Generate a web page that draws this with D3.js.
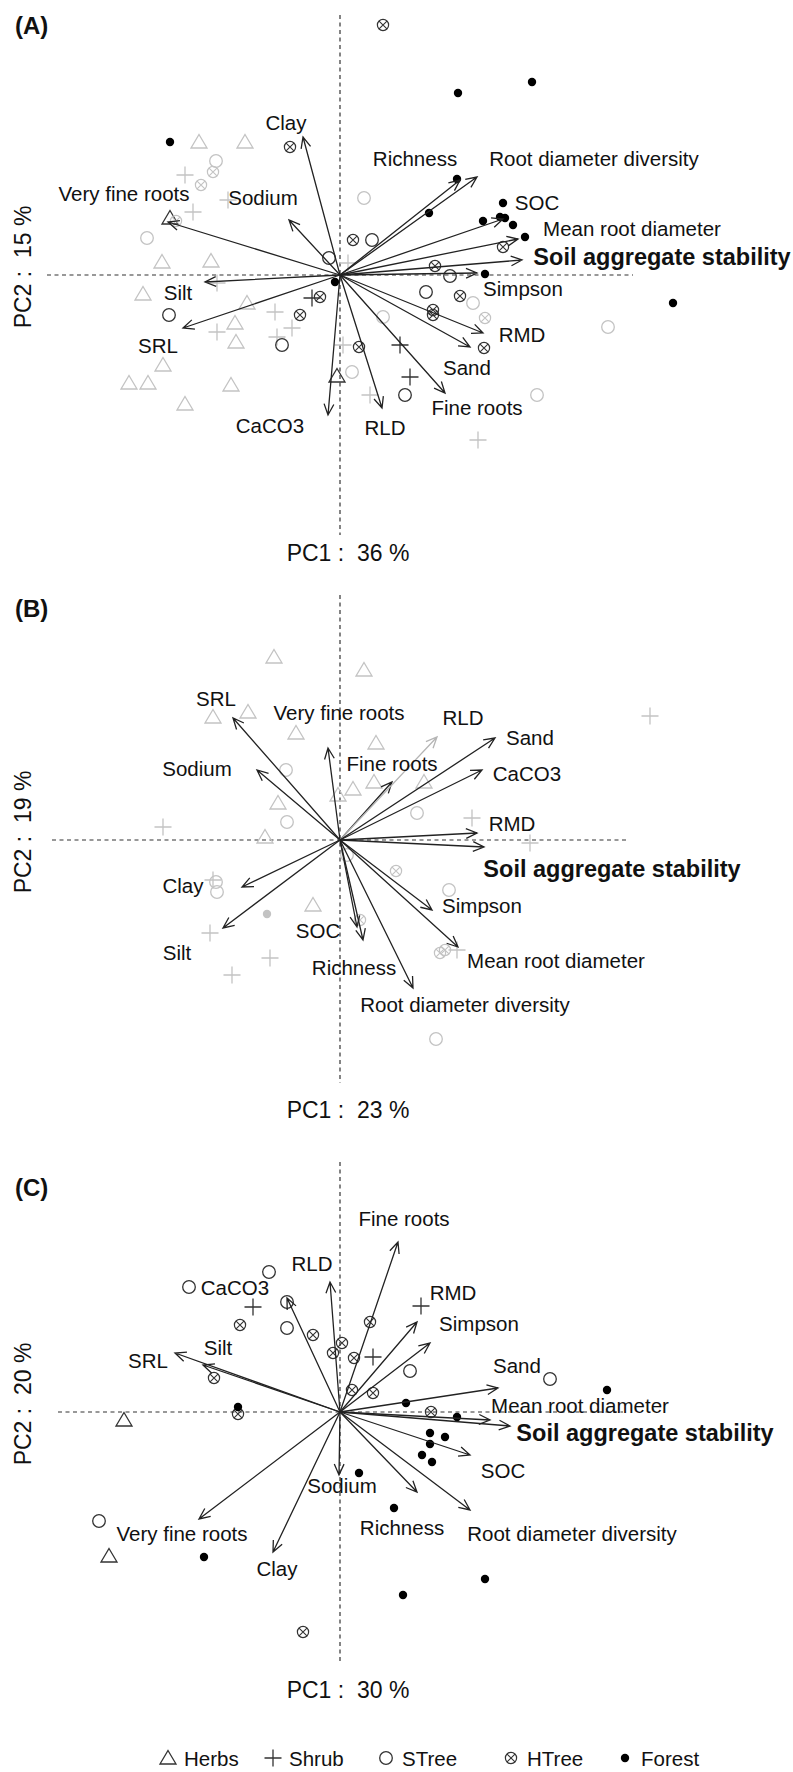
<!DOCTYPE html>
<html><head><meta charset="utf-8">
<script src="https://cdn.jsdelivr.net/npm/d3@7"></script>
<style>
body{margin:0;background:#fff}
svg{display:block}
text{font-family:"Liberation Sans",Arial,Helvetica,sans-serif;fill:#111}
</style>
</head><body>
<svg id="chart" width="793" height="1772"></svg>
<script>
// ---------------- DATA ----------------
const groups = ["Herbs", "Shrub", "STree", "HTree", "Forest"];
const panelNames = ["(A)", "(B)", "(C)"];
const pc1Pct = ["36", "23", "30"];
const pc2Pct = ["15", "19", "20"];
const boldVar = "Soil aggregate stability";

// variable loadings (arrow tips), PC units
const arrowsA = [
  ["Clay", -0.37, 1.38], ["Very fine roots", -1.72, 0.53], ["Sodium", -0.51, 0.55],
  ["Silt", -1.35, -0.07], ["SRL", -1.57, -0.53], ["CaCO3", -0.12, -1.40],
  ["RLD", 0.42, -1.33], ["Fine roots", 1.05, -1.18], ["Sand", 1.30, -0.72],
  ["RMD", 1.43, -0.58], ["Simpson", 1.37, 0.02], ["Soil aggregate stability", 1.82, 0.15],
  ["Mean root diameter", 1.78, 0.36], ["SOC", 1.63, 0.56], ["Richness", 1.20, 0.95],
  ["Root diameter diversity", 1.37, 0.98]
];
const labelsA = [
  [-0.54, 1.53], [-2.16, 0.82], [-0.77, 0.78], [-1.62, -0.17], [-1.82, -0.70], [-0.70, -1.50],
  [0.45, -1.52], [1.37, -1.32], [1.27, -0.92], [1.82, -0.59], [1.83, -0.13], [3.22, 0.18],
  [2.92, 0.47], [1.97, 0.73], [0.75, 1.17], [2.54, 1.17]
];
const arrowsB = [
  ["SRL", -1.07, 1.22], ["Very fine roots", -0.12, 0.92], ["Sodium", -0.83, 0.70],
  ["Fine roots", 0.52, 0.58], ["RLD", 0.97, 1.03], ["Sand", 1.55, 1.02],
  ["CaCO3", 1.42, 0.70], ["RMD", 1.37, 0.07], ["Soil aggregate stability", 1.44, -0.07],
  ["Simpson", 0.92, -0.70], ["Mean root diameter", 1.18, -1.07], ["Root diameter diversity", 0.73, -1.48],
  ["Richness", 0.23, -1.00], ["SOC", 0.17, -0.87], ["Clay", -0.98, -0.47], ["Silt", -1.17, -0.88]
];
const labelsB = [
  [-1.24, 1.42], [-0.01, 1.28], [-1.43, 0.72], [0.52, 0.77], [1.23, 1.23], [1.90, 1.03],
  [1.87, 0.67], [1.72, 0.17], [2.72, -0.29], [1.42, -0.65], [2.16, -1.20], [1.25, -1.64],
  [0.14, -1.27], [-0.22, -0.90], [-1.57, -0.45], [-1.63, -1.12]
];
const fadedArrowsB = ["RLD"];
const arrowsC = [
  ["RLD", -0.10, 1.30], ["Fine roots", 0.58, 1.70], ["Silt", -1.37, 0.47],
  ["SRL", -1.65, 0.59], ["CaCO3", -0.53, 1.14], ["Sodium", -0.01, -0.63],
  ["Very fine roots", -1.41, -1.07], ["Clay", -0.67, -1.40], ["RMD", 0.77, 0.90],
  ["Simpson", 0.90, 0.69], ["Sand", 1.58, 0.24], ["Mean root diameter", 1.50, -0.08],
  ["Soil aggregate stability", 1.70, -0.14], ["SOC", 1.30, -0.43], ["Richness", 0.77, -0.80],
  ["Root diameter diversity", 1.30, -0.98]
];
const labelsC = [
  [-0.28, 1.49], [0.64, 1.94], [-1.22, 0.65], [-1.92, 0.52], [-1.05, 1.25], [0.02, -0.73],
  [-1.58, -1.21], [-0.63, -1.56], [1.13, 1.20], [1.39, 0.89], [1.77, 0.47], [2.40, 0.07],
  [3.05, -0.21], [1.63, -0.58], [0.62, -1.15], [2.32, -1.21]
];

// site scores: [group, PC1, PC2, tone]
const pointsA = [
  ["Herbs",-1.41,1.33,"light"],["Herbs",-0.95,1.33,"light"],["Herbs",-1.70,0.57,"dark"],
  ["Herbs",-1.78,0.13,"light"],["Herbs",-1.29,0.14,"light"],["Herbs",-1.97,-0.19,"light"],
  ["Herbs",-0.93,-0.28,"light"],["Herbs",-1.05,-0.48,"light"],["Herbs",-1.04,-0.67,"light"],
  ["Herbs",-1.77,-0.90,"light"],["Herbs",-2.11,-1.08,"light"],["Herbs",-1.92,-1.08,"light"],
  ["Herbs",-1.09,-1.10,"light"],["Herbs",-1.55,-1.29,"light"],["Herbs",-0.03,-1.01,"dark"],
  ["Shrub",-1.55,1.00,"light"],["Shrub",-1.12,0.75,"light"],["Shrub",-1.47,0.63,"light"],
  ["Shrub",0.08,0.12,"light"],["Shrub",-1.23,-0.08,"light"],["Shrub",-0.65,-0.37,"light"],
  ["Shrub",-0.28,-0.23,"dark"],["Shrub",-1.23,-0.57,"light"],["Shrub",-0.48,-0.53,"light"],
  ["Shrub",-0.63,-0.62,"light"],["Shrub",0.03,-0.70,"light"],["Shrub",0.60,-0.70,"dark"],
  ["Shrub",0.70,-1.02,"dark"],["Shrub",0.30,-1.20,"light"],["Shrub",1.38,-1.65,"light"],
  ["STree",-1.24,1.14,"light"],["STree",0.24,0.77,"light"],["STree",-1.93,0.37,"light"],
  ["STree",0.32,0.35,"dark"],["STree",-0.11,0.17,"dark"],["STree",-1.71,-0.40,"dark"],
  ["STree",-0.58,-0.70,"dark"],["STree",0.43,-0.42,"light"],["STree",0.12,-0.97,"light"],
  ["STree",0.65,-1.20,"dark"],["STree",1.10,-0.01,"dark"],["STree",0.86,-0.17,"dark"],
  ["STree",1.33,-0.28,"light"],["STree",2.68,-0.52,"light"],["STree",1.97,-1.20,"light"],
  ["HTree",0.43,2.50,"dark"],["HTree",-0.50,1.28,"dark"],["HTree",-1.27,1.03,"light"],
  ["HTree",-1.39,0.90,"light"],["HTree",-1.64,0.54,"light"],["HTree",0.13,0.35,"dark"],
  ["HTree",-0.40,-0.40,"dark"],["HTree",-0.20,-0.22,"dark"],["HTree",0.19,-0.72,"dark"],
  ["HTree",0.95,0.09,"dark"],["HTree",1.20,-0.21,"dark"],["HTree",0.93,-0.35,"dark"],
  ["HTree",0.93,-0.40,"dark"],["HTree",1.45,-0.43,"light"],["HTree",1.44,-0.73,"dark"],
  ["HTree",1.63,0.28,"dark"],
  ["Forest",-1.70,1.33,"dark"],["Forest",1.18,1.82,"dark"],["Forest",1.92,1.93,"dark"],
  ["Forest",1.17,0.96,"dark"],["Forest",0.89,0.62,"dark"],["Forest",1.63,0.72,"dark"],
  ["Forest",1.43,0.54,"dark"],["Forest",1.60,0.58,"dark"],["Forest",1.65,0.57,"dark"],
  ["Forest",1.73,0.50,"dark"],["Forest",1.85,0.38,"dark"],["Forest",-0.05,-0.07,"dark"],
  ["Forest",1.45,0.01,"dark"],["Forest",3.33,-0.28,"dark"]
];
const pointsB = [
  ["Herbs",-0.66,1.83,"light"],["Herbs",0.24,1.70,"light"],["Herbs",-1.27,1.23,"light"],
  ["Herbs",-0.92,1.28,"light"],["Herbs",-0.44,1.07,"light"],["Herbs",0.36,0.97,"light"],
  ["Herbs",-0.62,0.37,"light"],["Herbs",0.13,0.51,"light"],["Herbs",-0.02,0.45,"light"],
  ["Herbs",0.34,0.58,"light"],["Herbs",0.84,0.58,"light"],["Herbs",-0.75,0.03,"light"],
  ["Herbs",-0.27,-0.65,"light"],
  ["Shrub",-1.77,0.13,"light"],["Shrub",3.10,1.24,"light"],["Shrub",1.32,0.22,"light"],
  ["Shrub",1.90,-0.03,"light"],["Shrub",-1.27,-0.40,"light"],["Shrub",-1.30,-0.93,"light"],
  ["Shrub",-0.70,-1.18,"light"],["Shrub",-1.08,-1.35,"light"],["Shrub",1.17,-1.10,"light"],
  ["STree",-0.54,0.70,"light"],["STree",-0.53,0.18,"light"],["STree",0.77,0.27,"light"],
  ["STree",-1.24,-0.42,"light"],["STree",-1.23,-0.52,"light"],["STree",1.09,-0.50,"light"],
  ["STree",0.96,-1.99,"light"],["STree",0.07,-0.15,"light"],
  ["HTree",0.56,-0.31,"light"],["HTree",1.00,-1.13,"light"],["HTree",1.05,-1.10,"light"],
  ["HTree",0.20,-0.80,"light"],
  ["Forest",-0.73,-0.74,"light"]
];
const pointsC = [
  ["Herbs",-2.16,-0.08,"dark"],["Herbs",-2.31,-1.44,"dark"],
  ["Shrub",-0.87,1.05,"dark"],["Shrub",0.81,1.06,"dark"],["Shrub",0.33,0.55,"dark"],
  ["STree",-1.51,1.25,"dark"],["STree",-0.71,1.40,"dark"],["STree",-0.53,1.10,"dark"],
  ["STree",-0.53,0.84,"dark"],["STree",0.70,0.41,"dark"],["STree",2.10,0.33,"dark"],
  ["STree",-2.41,-1.09,"dark"],
  ["HTree",-1.00,0.87,"dark"],["HTree",-0.27,0.77,"dark"],["HTree",0.02,0.69,"dark"],
  ["HTree",0.30,0.90,"dark"],["HTree",-0.07,0.59,"dark"],["HTree",0.14,0.54,"dark"],
  ["HTree",-1.26,0.34,"dark"],["HTree",0.12,0.22,"dark"],["HTree",0.33,0.19,"dark"],
  ["HTree",-1.02,-0.02,"dark"],["HTree",0.91,0.00,"dark"],["HTree",-0.37,-2.20,"dark"],
  ["Forest",-1.02,0.05,"dark"],["Forest",0.19,-0.61,"dark"],["Forest",0.54,-0.96,"dark"],
  ["Forest",-1.36,-1.45,"dark"],["Forest",0.66,0.09,"dark"],["Forest",1.17,-0.05,"dark"],
  ["Forest",0.90,-0.21,"dark"],["Forest",1.05,-0.25,"dark"],["Forest",0.90,-0.32,"dark"],
  ["Forest",0.82,-0.43,"dark"],["Forest",0.92,-0.50,"dark"],["Forest",1.45,-1.67,"dark"],
  ["Forest",0.63,-1.83,"dark"],["Forest",2.67,0.22,"dark"]
];
// extent of dashed reference axes, PC units [xmin,xmax,ymin,ymax]
const axisExtA = [-2.93, 2.93, -2.60, 2.60];
const axisExtB = [-2.88, 2.87, -2.43, 2.45];
const axisExtC = [-2.82, 2.83, -2.50, 2.50];

// ---------------- DRAWING ----------------
const svg = d3.select("#chart");
const unit = 100; // px per PC unit
const panels = [
  {name: panelNames[0], ox: 340, oy: 275, arrows: arrowsA, labels: labelsA, points: pointsA, ext: axisExtA, pc1: pc1Pct[0], pc2: pc2Pct[0], letterY: 25, pc1Y: 553, faded: []},
  {name: panelNames[1], ox: 340, oy: 840, arrows: arrowsB, labels: labelsB, points: pointsB, ext: axisExtB, pc1: pc1Pct[1], pc2: pc2Pct[1], letterY: 608, pc1Y: 1110, faded: fadedArrowsB},
  {name: panelNames[2], ox: 340, oy: 1412, arrows: arrowsC, labels: labelsC, points: pointsC, ext: axisExtC, pc1: pc1Pct[2], pc2: pc2Pct[2], letterY: 1187, pc1Y: 1690, faded: []}
];
const tone = d3.scaleOrdinal().domain(["light", "dark"]).range(["#c3c3c3", "#333333"]);
const NB = "\u00a0";

function drawSymbol(g, grp, x, y, col) {
  if (grp === "Herbs") {
    g.append("path").attr("d", `M${x},${y-7.5}L${x+8},${y+6}L${x-8},${y+6}Z`)
      .attr("fill", "none").attr("stroke", col).attr("stroke-width", 1.3);
  } else if (grp === "Shrub") {
    g.append("path").attr("d", `M${x-8.5},${y}H${x+8.5}M${x},${y-8.5}V${y+8.5}`)
      .attr("fill", "none").attr("stroke", col).attr("stroke-width", 1.3);
  } else if (grp === "STree") {
    g.append("circle").attr("cx", x).attr("cy", y).attr("r", 6.3)
      .attr("fill", "none").attr("stroke", col).attr("stroke-width", 1.3);
  } else if (grp === "HTree") {
    const r = 5.6, d = r * 0.707;
    g.append("circle").attr("cx", x).attr("cy", y).attr("r", r)
      .attr("fill", "none").attr("stroke", col).attr("stroke-width", 1.2);
    g.append("path").attr("d", `M${x-d},${y-d}L${x+d},${y+d}M${x-d},${y+d}L${x+d},${y-d}`)
      .attr("stroke", col).attr("stroke-width", 1.1);
  } else {
    g.append("circle").attr("cx", x).attr("cy", y).attr("r", 4.2).attr("fill", col === "#333333" ? "#000" : col);
  }
}

panels.forEach(p => {
  const x = d3.scaleLinear().domain([0, 1]).range([p.ox, p.ox + unit]);
  const y = d3.scaleLinear().domain([0, 1]).range([p.oy, p.oy - unit]);
  const g = svg.append("g");

  // dashed reference axes
  g.append("line").attr("x1", x(p.ext[0])).attr("x2", x(p.ext[1])).attr("y1", y(0)).attr("y2", y(0))
    .attr("stroke", "#333").attr("stroke-width", 1.2).attr("stroke-dasharray", "4,3.5");
  g.append("line").attr("x1", x(0)).attr("x2", x(0)).attr("y1", y(p.ext[3])).attr("y2", y(p.ext[2]))
    .attr("stroke", "#333").attr("stroke-width", 1.2).attr("stroke-dasharray", "4,3.5");

  // points
  const pg = g.append("g");
  p.points.forEach(d => drawSymbol(pg, d[0], x(d[1]), y(d[2]), tone(d[3])));

  // arrows
  const ag = g.append("g");
  p.arrows.forEach(a => {
    const x0 = x(0), y0 = y(0), x1 = x(a[1]), y1 = y(a[2]);
    const ang = Math.atan2(y1 - y0, x1 - x0);
    const L = 12, phi = Math.PI / 7.5;
    const col = p.faded.includes(a[0]) ? "#b5b5b5" : "#222";
    const hx1 = x1 - L * Math.cos(ang - phi), hy1 = y1 - L * Math.sin(ang - phi);
    const hx2 = x1 - L * Math.cos(ang + phi), hy2 = y1 - L * Math.sin(ang + phi);
    ag.append("path")
      .attr("d", `M${x0},${y0}L${x1},${y1}M${hx1},${hy1}L${x1},${y1}L${hx2},${hy2}`)
      .attr("fill", "none").attr("stroke", col).attr("stroke-width", 1.3);
  });

  // arrow labels
  p.arrows.forEach((a, i) => {
    const lp = p.labels[i];
    const isBold = a[0] === boldVar;
    g.append("text").attr("x", x(lp[0])).attr("y", y(lp[1]))
      .attr("text-anchor", "middle").attr("dominant-baseline", "central")
      .style("font-size", isBold ? "23.5px" : "20.5px")
      .style("font-weight", isBold ? "bold" : "normal")
      .text(a[0]);
  });

  // panel letter
  svg.append("text").attr("x", 15).attr("y", p.letterY).attr("dominant-baseline", "central")
    .style("font-size", "24px").style("font-weight", "bold").text(p.name);
  // axis titles
  svg.append("text").attr("x", 348).attr("y", p.pc1Y).attr("text-anchor", "middle")
    .attr("dominant-baseline", "central").style("font-size", "23px")
    .text(`PC1${NB}:${NB}${NB}${p.pc1}${NB}%`);
  svg.append("text").attr("transform", `translate(23,${p.oy - 8}) rotate(-90)`)
    .attr("text-anchor", "middle").attr("dominant-baseline", "central").style("font-size", "23px")
    .text(`PC2${NB}:${NB}${NB}${p.pc2}${NB}%`);
});

// legend
const legX = [168, 273, 386, 511, 625];
const lg = svg.append("g");
groups.forEach((grp, i) => {
  drawSymbol(lg, grp, legX[i], 1758, "#333333");
  lg.append("text").attr("x", legX[i] + 16).attr("y", 1758).attr("dominant-baseline", "central")
    .style("font-size", "20.5px").text(grp);
});
</script>
</body></html>
